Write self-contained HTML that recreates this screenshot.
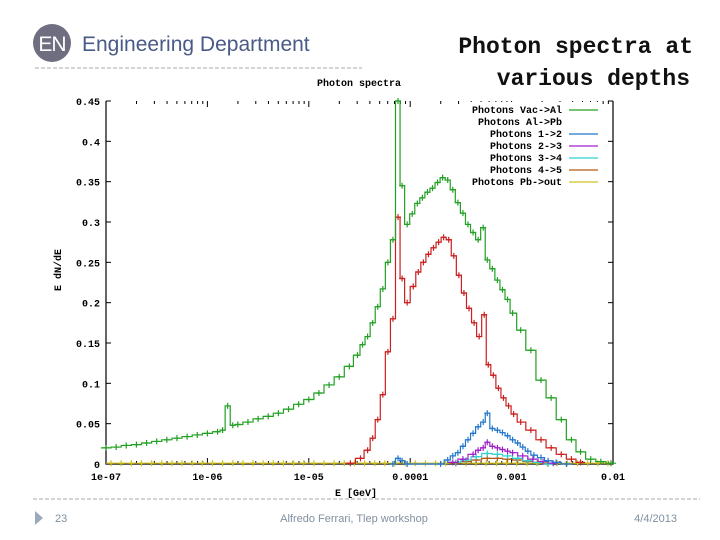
<!DOCTYPE html>
<html><head><meta charset="utf-8"><style>
body{margin:0;width:720px;height:540px;background:#fff;overflow:hidden;font-family:"Liberation Sans",sans-serif}
svg{position:absolute;left:0;top:0}
</style></head><body>
<svg width="720" height="540" xmlns="http://www.w3.org/2000/svg">
<g>
<circle cx="52" cy="43" r="19" fill="#6e6e80"/>
<text x="52" y="51" font-size="21" fill="#fff" text-anchor="middle" font-family="Liberation Sans" letter-spacing="-1">EN</text>
<text x="82" y="51" font-size="21" fill="#4a5a86" font-family="Liberation Sans">Engineering Department</text>
</g>
<line x1="35" y1="68" x2="362" y2="68" stroke="#aaa" stroke-dasharray="4,2"/>
<g font-family="Liberation Mono" font-weight="bold" font-size="23" fill="#111" text-anchor="end">
<text x="693" y="53">Photon spectra at</text>
<text x="690" y="85">various depths</text>
</g>
<text x="359" y="86" font-family="Liberation Mono" font-weight="bold" font-size="10" text-anchor="middle">Photon spectra</text>
<g id="plot"></g>
<text x="356" y="496" font-family="Liberation Mono" font-weight="bold" font-size="10" text-anchor="middle">E [GeV]</text>
<text transform="translate(61,270) rotate(-90)" font-family="Liberation Mono" font-weight="bold" font-size="10" text-anchor="middle">E dN/dE</text>
<line x1="33" y1="499" x2="700" y2="499" stroke="#aaa" stroke-dasharray="4,2"/>
<polygon points="35,511 43,518 35,525" fill="#9aaabd"/>
<g font-size="11" fill="#8090a0" font-family="Liberation Sans">
<text x="55" y="522">23</text>
<text x="354" y="522" text-anchor="middle">Alfredo Ferrari, Tlep workshop</text>
<text x="677" y="522" text-anchor="end">4/4/2013</text>
</g>
</svg>
<script>
const yTicks=[0,0.05,0.1,0.15,0.2,0.25,0.3,0.35,0.4,0.45];
const yTickLabels=["0","0.05","0.1","0.15","0.2","0.25","0.3","0.35","0.4","0.45"];
const xTickDecades=[-7,-6,-5,-4,-3,-2];
const xTickLabels=["1e-07","1e-06","1e-05","0.0001","0.001","0.01"];
const seriesNames=["Photons Vac->Al","Photons Al->Pb","Photons 1->2","Photons 2->3","Photons 3->4","Photons 4->5","Photons Pb->out"];
const seriesColors=["#22a022","#cc1f1f","#2277cc","#a020c8","#30d0d0","#b05a10","#d0c020"];
const eGreen=[-7.0,-6.9,-6.8,-6.7,-6.6,-6.5,-6.4,-6.3,-6.2,-6.1,-6.0,-5.9,-5.85,-5.80,-5.75,-5.7,-5.6,-5.5,-5.4,-5.3,-5.2,-5.1,-5.0,-4.9,-4.8,-4.7,-4.6,-4.52,-4.47,-4.42,-4.37,-4.32,-4.27,-4.22,-4.17,-4.12,-4.08,-4.03,-3.98,-3.93,-3.88,-3.83,-3.78,-3.73,-3.68,-3.63,-3.58,-3.53,-3.48,-3.43,-3.38,-3.33,-3.28,-3.24,-3.19,-3.14,-3.09,-3.04,-2.99,-2.91,-2.81,-2.71,-2.61,-2.51,-2.41,-2.32,-2.22,-2.12,-2.02];
const vGreen=[.020,.021,.023,.024,.026,.028,.030,.032,.034,.036,.038,.040,.042,.072,.048,.049,.052,.056,.059,.063,.068,.074,.080,.088,.098,.108,.121,.135,.148,.158,.175,.195,.217,.250,.278,.450,.345,.297,.310,.323,.330,.337,.342,.349,.355,.352,.340,.324,.311,.297,.287,.278,.293,.253,.242,.228,.216,.204,.187,.166,.141,.104,.082,.055,.030,.015,.006,.003,.001];
const eRed=[-4.59,-4.49,-4.42,-4.37,-4.32,-4.27,-4.22,-4.17,-4.12,-4.08,-4.03,-3.97,-3.92,-3.87,-3.82,-3.77,-3.72,-3.67,-3.62,-3.57,-3.52,-3.47,-3.42,-3.37,-3.32,-3.27,-3.23,-3.18,-3.13,-3.08,-3.03,-2.98,-2.91,-2.81,-2.71,-2.61,-2.51,-2.41,-2.32];
const vRed=[.001,.007,.017,.032,.055,.086,.139,.180,.306,.230,.200,.220,.238,.250,.260,.268,.275,.281,.278,.258,.234,.212,.193,.175,.158,.185,.123,.110,.094,.082,.072,.062,.052,.042,.030,.020,.012,.006,.002];
const eBlue=[-4.17,-4.12,-4.08,-4.03,-3.70,-3.63,-3.58,-3.53,-3.48,-3.43,-3.38,-3.33,-3.28,-3.24,-3.19,-3.14,-3.09,-3.04,-2.99,-2.94,-2.89,-2.84,-2.78,-2.71,-2.64,-2.56,-2.46];
const vBlue=[0,.007,.004,0,0,.005,.010,.014,.022,.030,.038,.046,.052,.063,.044,.042,.039,.035,.030,.026,.021,.016,.011,.008,.004,.002,0];
const ePurple=[-3.58,-3.48,-3.38,-3.33,-3.28,-3.24,-3.19,-3.14,-3.09,-3.04,-2.99,-2.89,-2.79,-2.69,-2.59];
const vPurple=[.002,.006,.012,.017,.020,.027,.022,.020,.018,.016,.014,.010,.006,.003,.001];
const eCyan=[-3.55,-3.45,-3.35,-3.24,-3.14,-3.04,-2.94,-2.84,-2.74,-2.64];
const vCyan=[.002,.005,.009,.013,.012,.010,.007,.004,.002,0];
const eBrown=[-3.55,-3.45,-3.35,-3.24,-3.14,-3.04,-2.94,-2.84,-2.74,-2.64];
const vBrown=[.001,.003,.005,.007,.007,.006,.005,.003,.002,.001];
const eYellow=[-6.95,-6.85,-6.75,-6.65,-6.55,-6.45,-6.35,-6.25,-6.15,-6.05,-5.95,-5.85,-5.75,-5.65,-5.55,-5.45,-5.35,-5.25,-5.15,-5.05,-4.95,-4.85,-4.75,-4.65,-4.55,-4.45,-4.35,-4.25,-4.15,-4.05,-3.95,-3.85,-3.75,-3.65,-3.55,-3.45,-3.35,-3.25,-3.15,-3.05,-2.95,-2.85,-2.75,-2.65,-2.55,-2.45,-2.35,-2.25,-2.15,-2.05];
const vYellow=[.001,.001,.001,.001,.001,.001,.001,.001,.001,.001,.001,.001,.001,.001,.001,.001,.001,.001,.001,.001,.001,.001,.001,.001,.001,.001,.001,.001,.001,.001,.001,.001,.001,.001,.001,.001,.001,.001,.001,.001,.001,.001,.001,.001,.001,.001,.001,.001,.001,.001];

const NS="http://www.w3.org/2000/svg";
const X0=106,X1=613,Y0=464,Y1=101;
function xs(l){return X0+(l+7)/5*(X1-X0);}
function ys(v){return Y0-v/0.45*(Y0-Y1);}
const plot=document.getElementById('plot');
function mk(t,a,p){const e=document.createElementNS(NS,t);for(const k in a)e.setAttribute(k,a[k]);(p||plot).appendChild(e);return e;}
// axes
const ax=mk('path',{d:`M${X0},${Y1}V${Y0}H${X1}V${Y1}`,fill:'none',stroke:'#000','stroke-width':1.2});


yTicks.forEach((v,i)=>{
  mk('line',{x1:X0,x2:X0+5,y1:ys(v),y2:ys(v),stroke:'#000'});
  mk('line',{x1:X1,x2:X1-5,y1:ys(v),y2:ys(v),stroke:'#000'});
  const t=mk('text',{x:X0-6,y:ys(v)+4,'font-family':'Liberation Mono','font-weight':'bold','font-size':10,'text-anchor':'end'});
  t.textContent=yTickLabels[i];
  
  
});
xTickDecades.forEach((d,i)=>{
  const x=xs(d);
  mk('line',{x1:x,x2:x,y1:Y0,y2:Y0-6,stroke:'#000'});
  mk('line',{x1:x,x2:x,y1:Y1,y2:Y1+6,stroke:'#000'});
  const t=mk('text',{x:x,y:480,'font-family':'Liberation Mono','font-weight':'bold','font-size':10,'text-anchor':'middle'});
  t.textContent=xTickLabels[i];
  
  
  if(i<xTickDecades.length-1)for(let m=2;m<10;m++){const xm=xs(d+Math.log10(m));
    mk('line',{x1:xm,x2:xm,y1:Y0,y2:Y0-3,stroke:'#000'});
    mk('line',{x1:xm,x2:xm,y1:Y1,y2:Y1+3,stroke:'#000'});}
});
function series(E,V,c,name){
  const g=mk('g',{});
  
  
  let d='';
  for(let i=0;i<E.length;i++){
    const l=i>0?(E[i-1]+E[i])/2:E[i]-(E[1]-E[0])/2;
    const r=i<E.length-1?(E[i]+E[i+1])/2:E[i]+(E[i]-E[i-1])/2;
    const y=ys(V[i]);
    d+=(i==0?`M${xs(l)},${y}`:`V${y}`)+`H${xs(r)}`;
  }
  mk('path',{d:d,fill:'none',stroke:c,'stroke-width':1.2},g);
  for(let i=0;i<E.length;i++){const x=xs(E[i]),y=ys(V[i]);
    mk('path',{d:`M${x-3},${y}H${x+3}M${x},${y-3}V${y+3}`,stroke:c,'stroke-width':1.2},g);}
}
series(eYellow,vYellow,seriesColors[6],'series-pb-out');
series(eBrown,vBrown,seriesColors[5],'series-4-5');
series(eCyan,vCyan,seriesColors[4],'series-3-4');
series(ePurple,vPurple,seriesColors[3],'series-2-3');
series(eBlue,vBlue,seriesColors[2],'series-1-2');
series(eRed,vRed,seriesColors[1],'series-al-pb');
series(eGreen,vGreen,seriesColors[0],'series-vac-al');
// legend
const lg=mk('g',{});


seriesNames.forEach((n,i)=>{
  const y=110+i*12;
  const r=mk('rect',{x:465,y:y-8,width:134,height:11,fill:'#fff'},lg);
  const t=mk('text',{x:562,y:y+3,'font-family':'Liberation Mono','font-weight':'bold','font-size':10,'text-anchor':'end'},lg);
  t.textContent=n;
  
  
  if(i!==1)mk('line',{x1:569,x2:598,y1:y,y2:y,stroke:seriesColors[i],'stroke-width':1.2},lg);
});
</script>
</body></html>
